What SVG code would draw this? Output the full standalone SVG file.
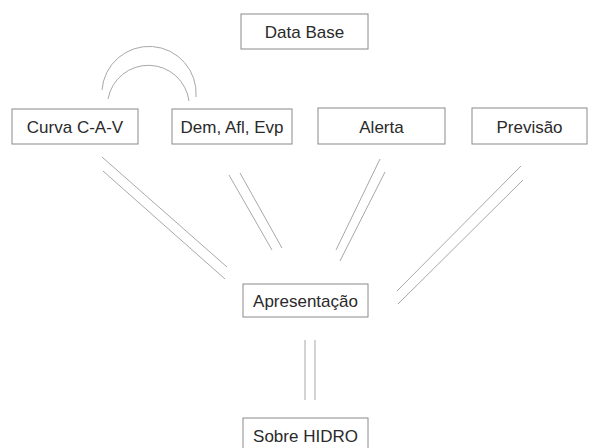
<svg xmlns="http://www.w3.org/2000/svg" width="589" height="448" viewBox="0 0 589 448">
<style>
.box{fill:#fff;stroke:#8a8a8a;stroke-width:1}
.lbl{font-family:"Liberation Sans","DejaVu Sans",sans-serif;font-size:17px;fill:#2a2a2a;text-anchor:middle}
.c{fill:none;stroke:#a8a8a8;stroke-width:1}
</style>
<rect width="589" height="448" fill="#fff"/>
<g id="connectors">
<path class="c" d="M102,90 A47,47 0 0 1 196,97"/>
<path class="c" d="M108,99 A41,41 0 0 1 189,101"/>
<line class="c" x1="102" y1="157" x2="227" y2="267"/>
<line class="c" x1="103" y1="171" x2="225" y2="279"/>
<line class="c" x1="229" y1="175" x2="272" y2="250"/>
<line class="c" x1="240" y1="173" x2="282" y2="248"/>
<line class="c" x1="380" y1="159" x2="336" y2="250"/>
<line class="c" x1="385" y1="172" x2="340" y2="261"/>
<line class="c" x1="521" y1="166" x2="397" y2="291"/>
<line class="c" x1="523" y1="180" x2="398" y2="304"/>
<line class="c" x1="305" y1="340" x2="305" y2="400"/>
<line class="c" x1="315" y1="340" x2="315" y2="400"/>
</g>
<g id="n-database"><rect class="box" x="241" y="14" width="127" height="35"/><text class="lbl" x="304.5" y="37.5">Data Base</text></g>
<g id="n-curva"><rect class="box" x="12" y="109" width="126" height="35"/><text class="lbl" x="75" y="132.5">Curva C-A-V</text></g>
<g id="n-dem"><rect class="box" x="172" y="109" width="120" height="35"/><text class="lbl" x="232" y="132.5">Dem, Afl, Evp</text></g>
<g id="n-alerta"><rect class="box" x="318" y="108" width="127" height="36"/><text class="lbl" x="381.5" y="132.5">Alerta</text></g>
<g id="n-previsao"><rect class="box" x="472" y="108" width="115" height="36"/><text class="lbl" x="529.5" y="132.5">Previsão</text></g>
<g id="n-apresentacao"><rect class="box" x="243" y="284" width="125" height="33"/><text class="lbl" x="305.5" y="306.5">Apresentação</text></g>
<g id="n-sobre"><rect class="box" x="243" y="418" width="125" height="34"/><text class="lbl" x="305.5" y="441.5">Sobre HIDRO</text></g>
</svg>
